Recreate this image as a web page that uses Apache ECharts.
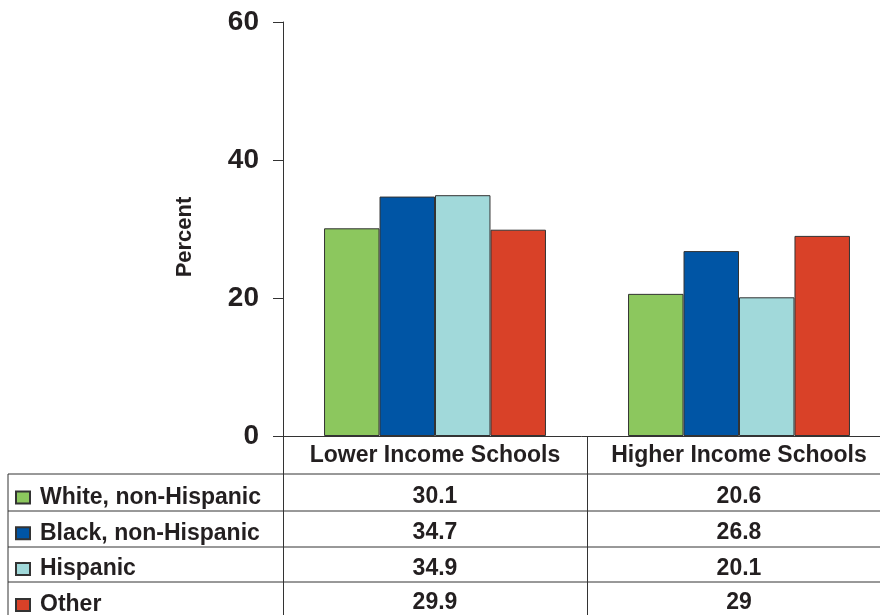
<!DOCTYPE html>
<html>
<head>
<meta charset="utf-8">
<script src="https://cdn.jsdelivr.net/npm/echarts@6/dist/echarts.min.js"></script>
<style>
  html, body { margin: 0; padding: 0; background: #fff; }
  #chart { width: 880px; height: 615px; }
</style>
</head>
<body>
<div id="chart"></div>
<script>
// data
const categories = ['Lower Income Schools', 'Higher Income Schools'];
const groups = ['White, non-Hispanic', 'Black, non-Hispanic', 'Hispanic', 'Other'];
const white = [30.1, 20.6];
const black = [34.7, 26.8];
const hispanic = [34.9, 20.1];
const other = [29.9, 29];
const colors = ['#8cc75e', '#0055a5', '#a1d9da', '#d94128'];

const font = "'Liberation Sans', Arial, sans-serif";
const ink = '#231f20';
const lineColor = '#333';

const chartDom = document.getElementById('chart');
const myChart = echarts.init(chartDom);

const seriesData = [white, black, hispanic, other];

const option = {
  animation: false,
  grid: { left: 283, top: 22, width: 608, height: 414, outerBoundsMode: 'none' },
  legend: {
    orient: 'vertical',
    left: 15,
    top: 486,
    width: 270,
    height: 160,
    padding: 0,
    itemWidth: 14,
    itemHeight: 12,
    itemGap: 12.8,
    icon: 'rect',
    selectedMode: false,
    textStyle: {
      fontFamily: font, fontSize: 23, fontWeight: 'bold', color: ink,
      lineHeight: 22, padding: [0, 0, 0, 5]
    },
    data: groups
  },
  xAxis: {
    type: 'category',
    data: categories,
    axisLine: { lineStyle: { color: lineColor, width: 1 } },
    axisTick: { show: true, interval: 0, length: 179, lineStyle: { color: lineColor, width: 1 } },
    axisLabel: {
      interval: 0, hideOverlap: false,
      margin: 8, fontFamily: font, fontSize: 23, fontWeight: 'bold', color: ink
    }
  },
  yAxis: {
    type: 'value',
    min: 0,
    max: 60,
    interval: 20,
    name: 'Percent',
    nameLocation: 'middle',
    nameRotate: 90,
    nameGap: 87,
    nameTextStyle: {
      fontFamily: font, fontSize: 22, fontWeight: 'bold', color: ink,
      padding: [0, 16, 0, 0]
    },
    axisLine: { show: true, lineStyle: { color: lineColor, width: 1 } },
    axisTick: { show: true, length: 10, lineStyle: { color: lineColor, width: 1 } },
    splitLine: { show: false },
    axisLabel: { margin: 24, fontFamily: font, fontSize: 28, fontWeight: 'bold', color: ink }
  },
  series: groups.map(function (name, i) {
    return {
      name: name,
      type: 'bar',
      data: seriesData[i],
      barGap: '0%',
      barCategoryGap: '27%',
      itemStyle: { color: colors[i], borderColor: lineColor, borderWidth: 1 }
    };
  })
};
myChart.setOption(option);

// table under the chart: grid lines and value cells
const rowLines = [474, 511, 547, 582];
const rowCenters = [497, 533, 569, 603];
const graphics = [];
rowLines.forEach(function (y) {
  graphics.push({
    type: 'line',
    shape: { x1: 8, y1: y, x2: 880, y2: y },
    style: { stroke: lineColor, lineWidth: 1 }
  });
});
graphics.push({
  type: 'line',
  shape: { x1: 8, y1: 474, x2: 8, y2: 615 },
  style: { stroke: lineColor, lineWidth: 1 }
});
seriesData.forEach(function (vals, r) {
  vals.forEach(function (v, c) {
    const x = myChart.convertToPixel({ xAxisIndex: 0 }, categories[c]);
    graphics.push({
      type: 'text',
      x: x,
      y: rowCenters[r],
      style: {
        text: String(v),
        fontFamily: font, fontSize: 23, fontWeight: 'bold', fill: ink,
        align: 'center', verticalAlign: 'middle'
      }
    });
  });
});
myChart.setOption({ graphic: graphics });
</script>
</body>
</html>
